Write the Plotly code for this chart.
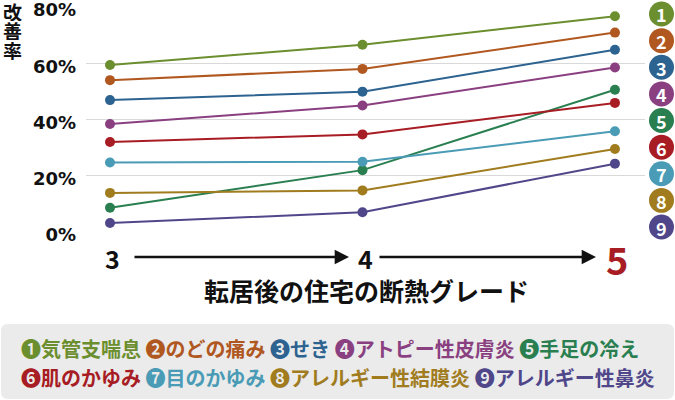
import numpy as np
import plotly.graph_objects as go

# data
grades = [3, 4, 5]
symptoms = ['気管支喘息', 'のどの痛み', 'せき', 'アトピー性皮膚炎', '手足の冷え',
            '肌のかゆみ', '目のかゆみ', 'アレルギー性結膜炎', 'アレルギー性鼻炎']
grade3 = [59.4, 54.0, 46.9, 38.4, 8.6, 32.0, 24.7, 13.9, 3.2]
grade4 = [66.6, 58.0, 49.9, 45.0, 22.0, 34.7, 25.0, 14.8, 7.0]
grade5 = [76.7, 70.9, 64.8, 58.5, 50.6, 45.9, 35.8, 29.5, 24.3]
marks = ['❶', '❷', '❸', '❹', '❺', '❻', '❼', '❽', '❾']
colors = ['#6b8e2e', '#b0581f', '#2d6390', '#8a3f80', '#2a7f50',
          '#a81c24', '#4a9bb5', '#a07c1e', '#50478b']
y_title = '改善率'
x_title = '転居後の住宅の断熱グレード'

FONT = 'Noto Sans CJK JP'
W, H = 675, 400
L, R, T, B = 86, 30, 7, 168
X_RANGE = [2.905, 5.119]
Y_RANGE = [0, 80]


# pixel -> paper / data helpers
def px(x):
    return (x - L) / (W - L - R)


def py(y):
    return (H - B - y) / (H - T - B)


def dx(x):
    return X_RANGE[0] + (x - L) / (W - L - R) * (X_RANGE[1] - X_RANGE[0])


fig = go.Figure()

values = np.array([grade3, grade4, grade5]).T
for name, vals, c in zip(symptoms, values, colors):
    fig.add_trace(go.Scatter(
        x=grades, y=vals, mode='lines+markers', name=name,
        line=dict(color=c, width=2),
        marker=dict(color=c, size=10),
        cliponaxis=False,
    ))

annotations = []
shapes = []

# numbered circles on the right
for i, (c, cy) in enumerate(zip(colors, np.linspace(14, 227, len(symptoms)))):
    shapes.append(dict(
        type='circle', xref='paper', yref='paper',
        xsizemode='pixel', ysizemode='pixel',
        xanchor=px(661.5), yanchor=py(cy),
        x0=-12.5, x1=12.5, y0=-12.5, y1=12.5,
        fillcolor=c, line=dict(width=0),
    ))
    annotations.append(dict(
        text=str(i + 1), x=px(661.5), y=py(cy + 0.5), xref='paper', yref='paper',
        xanchor='center', yanchor='middle', showarrow=False,
        font=dict(family=FONT, size=18, color='white', weight='bold'),
    ))

# vertical y title, one character per line
for ch, cy in zip(y_title, [11.5, 30.5, 50.5]):
    annotations.append(dict(
        text=ch, x=px(12.5), y=py(cy), xref='paper', yref='paper',
        xanchor='center', yanchor='middle', height=19, borderpad=0,
        showarrow=False, font=dict(family=FONT, size=19, color='#111', weight='bold'),
    ))

# grade labels and arrows
for g in grades:
    big = g == grades[-1]
    annotations.append(dict(
        text=str(g), x=g + 0.01, y=py(258), xref='x', yref='paper', showarrow=False,
        xanchor='center', yanchor='middle',
        font=dict(family=FONT, size=38 if big else 25,
                  color='#a81c24' if big else '#111', weight='bold'),
    ))
for x0, x1 in [(133, 349), (378, 596)]:
    annotations.append(dict(
        text='', x=dx(x1), y=py(257), xref='x', yref='paper',
        ax=dx(x0), ay=0, axref='x', ayref='pixel',
        showarrow=True, arrowhead=2, arrowsize=1.1, arrowwidth=2.6, arrowcolor='#111',
    ))

annotations.append(dict(
    text=x_title, x=px(366), y=py(290), xref='paper', yref='paper',
    xanchor='center', yanchor='middle',
    showarrow=False, font=dict(family=FONT, size=25, color='#111', weight='bold'),
))

# legend rows
rows = [range(0, 5), range(5, 9)]
for row, ypix in zip(rows, [348, 377]):
    parts = [f"<span style='color:{colors[i]}'>{marks[i]}{symptoms[i]}</span>" for i in row]
    annotations.append(dict(
        text=' '.join(parts), x=px(19), y=py(ypix), xref='paper', yref='paper',
        xanchor='left', yanchor='middle', showarrow=False,
        font=dict(family=FONT, size=20, weight='bold'),
    ))


# rounded legend box
def rounded_rect(x0, y0, x1, y1, r):
    rx = r / (W - L - R)
    ry = r / (H - T - B)
    a0, a1, b0, b1 = px(x0), px(x1), py(y1), py(y0)
    return (f'M{a0 + rx},{b0} L{a1 - rx},{b0} Q{a1},{b0} {a1},{b0 + ry} '
            f'L{a1},{b1 - ry} Q{a1},{b1} {a1 - rx},{b1} L{a0 + rx},{b1} '
            f'Q{a0},{b1} {a0},{b1 - ry} L{a0},{b0 + ry} Q{a0},{b0} {a0 + rx},{b0} Z')


shapes.append(dict(type='path', path=rounded_rect(1, 324, 674, 399, 7),
                   xref='paper', yref='paper', fillcolor='#ebebeb', line=dict(width=0),
                   layer='below'))

fig.update_layout(
    width=W, height=H,
    margin=dict(l=L, r=R, t=T, b=B, autoexpand=False),
    paper_bgcolor='white', plot_bgcolor='white',
    showlegend=False,
    annotations=annotations,
    shapes=shapes,
    xaxis=dict(range=X_RANGE, showgrid=False, zeroline=False, showticklabels=False,
               automargin=False),
    yaxis=dict(
        range=Y_RANGE, dtick=20, ticksuffix='%',
        showgrid=True, gridcolor='#d9d9d9', gridwidth=1, zeroline=False,
        tickfont=dict(family='DejaVu Sans', size=18, color='#111', weight='bold'),
        ticklabelstandoff=9, ticklabelshift=3, ticklabeloverflow='allow', automargin=False,
    ),
)

# page body has a default 8px margin; drop it so the figure sits at the corner
fig.write_html('out.html', config={'displayModeBar': False},
               post_script="document.body.style.margin='0';")
